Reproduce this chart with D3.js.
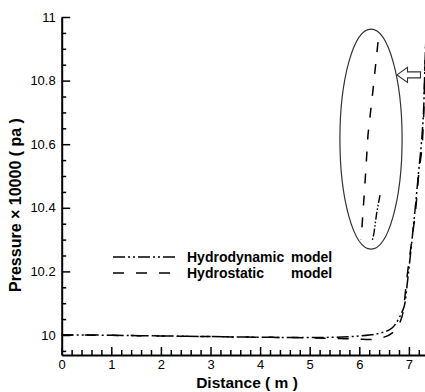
<!DOCTYPE html>
<html>
<head>
<meta charset="utf-8">
<script src="https://cdn.jsdelivr.net/npm/d3@7/dist/d3.min.js"></script>
<style>
html,body{margin:0;padding:0;background:#fff;}
svg{display:block;}
text{font-family:"Liberation Sans",Arial,Helvetica,sans-serif;fill:#000;}
</style>
</head>
<body>
<svg id="chart" width="425" height="392"></svg>
<script>
// ---- data ----
const xTicks = [0, 1, 2, 3, 4, 5, 6, 7];
const yTicks = [10, 10.2, 10.4, 10.6, 10.8, 11];
const yTickLabels = ["10", "10.2", "10.4", "10.6", "10.8", "11"];

const dynX = [0, 0.5, 1, 2, 3, 4, 5, 5.5, 6.0, 6.2, 6.42, 6.66, 6.78, 6.86, 6.92, 6.98, 7.07, 7.14, 7.20, 7.27, 7.30, 7.32, 7.34, 7.36];
const dynY = [10.0, 10.0, 9.999, 9.997, 9.995, 9.993, 9.992, 9.993, 9.997, 10.0, 10.006, 10.022, 10.047, 10.072, 10.10, 10.18, 10.31, 10.42, 10.52, 10.64, 10.72, 10.83, 10.92, 10.98];

const staX = [0, 1, 2, 3, 4, 5, 5.5, 6.0, 6.2, 6.42, 6.66, 6.82, 6.88, 6.96, 7.06, 7.14, 7.20, 7.28, 7.30, 7.32, 7.34, 7.36];
const staY = [10.0, 9.999, 9.997, 9.995, 9.993, 9.991, 9.989, 9.987, 9.986, 9.99, 10.006, 10.04, 10.07, 10.18, 10.30, 10.40, 10.51, 10.63, 10.70, 10.82, 10.92, 10.98];

// magnified sketch inside the ellipse
const insetStaX = [6.377, 6.276, 6.175, 6.115, 6.054, 6.034];
const insetStaY = [10.921, 10.770, 10.629, 10.478, 10.340, 10.300];
const insetDynX = [6.417, 6.351, 6.296, 6.266];
const insetDynY = [10.440, 10.384, 10.321, 10.299];

const seriesNames = ["Hydrodynamic", "Hydrostatic"];

// ---- layout ----
const svg = d3.select("#chart");
const x = d3.scaleLinear().domain([0, 7.4]).range([61.7, 61.7 + 7.4 * 49.6]);
const y = d3.scaleLinear().domain([10, 11]).range([335, 17]);
const yBottom = 355;
y.domain([y.invert(yBottom), 11]).range([yBottom, 17]);

const DASHDOT = "12,3,2,3,2,3";
const DASHED = "11,12";

// minor ticks
const xMinor = d3.range(0, 7.41, 0.2).filter(v => Math.abs(v - Math.round(v)) > 1e-6);
const yMinor = d3.range(9.95, 11.0, 0.05).filter(v => Math.abs(v * 5 - Math.round(v * 5)) > 1e-6);

const gx = svg.append("g").attr("transform", `translate(0,${yBottom})`);
gx.call(d3.axisBottom(x).tickValues(xMinor).tickSizeInner(-5).tickSizeOuter(0).tickFormat(""));
gx.call(g => g.select(".domain").remove());
const gx2 = svg.append("g").attr("transform", `translate(0,${yBottom})`);
gx2.call(d3.axisBottom(x).tickValues(xTicks).tickSizeInner(-8).tickSizeOuter(0).tickPadding(5).tickFormat(d3.format("d")));

const gy = svg.append("g").attr("transform", `translate(${x(0)},0)`);
gy.call(d3.axisLeft(y).tickValues(yMinor).tickSizeInner(-4.5).tickSizeOuter(0).tickFormat(""));
gy.call(g => g.select(".domain").remove());
const gy2 = svg.append("g").attr("transform", `translate(${x(0)},0)`);
gy2.call(d3.axisLeft(y).tickValues(yTicks).tickSizeInner(-8.5).tickSizeOuter(0).tickPadding(6)
  .tickFormat((d, i) => yTickLabels[i]));

svg.selectAll(".domain").attr("stroke", "#000").attr("stroke-width", 2);
svg.selectAll(".tick line").attr("stroke", "#000").attr("stroke-width", 1.5);
svg.selectAll(".tick text").attr("font-size", 13).attr("font-family", "Liberation Sans, Arial, sans-serif").attr("fill", "#000");

// axis titles
svg.append("text").attr("x", 247).attr("y", 388).attr("text-anchor", "middle")
  .attr("font-size", 15.5).attr("font-weight", "bold").text("Distance ( m )");
svg.append("text").attr("transform", "translate(21,205) rotate(-90)").attr("text-anchor", "middle")
  .attr("font-size", 16).attr("font-weight", "bold").text("Pressure × 10000 ( pa )");

// curves
const line = d3.line().x(d => x(d[0])).y(d => y(d[1])).curve(d3.curveMonotoneX);
const lineN = d3.line().x(d => x(d[0])).y(d => y(d[1])).curve(d3.curveLinear);
svg.append("clipPath").attr("id", "clip").append("rect")
  .attr("x", x(0)).attr("y", 0).attr("width", 425 - x(0)).attr("height", yBottom);

svg.append("path").attr("clip-path", "url(#clip)")
  .attr("d", line(staX.map((v, i) => [v, staY[i]])))
  .attr("fill", "none").attr("stroke", "#000").attr("stroke-width", 1.5).attr("stroke-dasharray", DASHED);
svg.append("path").attr("clip-path", "url(#clip)")
  .attr("d", line(dynX.map((v, i) => [v, dynY[i]])))
  .attr("fill", "none").attr("stroke", "#000").attr("stroke-width", 1.5).attr("stroke-dasharray", DASHDOT);

// inset sketch
svg.append("path").attr("d", lineN(insetStaX.map((v, i) => [v, insetStaY[i]])))
  .attr("fill", "none").attr("stroke", "#000").attr("stroke-width", 1.5).attr("stroke-dasharray", "10,12");
svg.append("path").attr("d", lineN(insetDynX.map((v, i) => [v, insetDynY[i]])))
  .attr("fill", "none").attr("stroke", "#000").attr("stroke-width", 1.4).attr("stroke-dasharray", "8,2,1.5,2,1.5,2");

// ellipse annotation
const ecx = 6.236, ecy = 10.616, erx = 0.627, ery = 0.346;
svg.append("ellipse").attr("cx", x(ecx)).attr("cy", y(ecy))
  .attr("rx", x(ecx + erx) - x(ecx)).attr("ry", y(ecy - ery) - y(ecy))
  .attr("fill", "none").attr("stroke", "#333").attr("stroke-width", 1.2);

// arrow annotation
const tipX = x(6.76), tipY = y(10.818);
const arrowShape = [[0, 0], [10.5, -7.5], [10.5, -3], [23.5, -3], [23.5, 3], [10.5, 3], [10.5, 7.5]];
svg.append("polygon").attr("points", arrowShape.map(p => [tipX + p[0], tipY + p[1]].join(",")).join(" "))
  .attr("fill", "#fff").attr("stroke", "#333").attr("stroke-width", 1.1);

// legend
const leg = svg.append("g");
const legRows = [
  {name: seriesNames[0], dash: DASHDOT, y: 257},
  {name: seriesNames[1], dash: DASHED, y: 273}
];
legRows.forEach(r => {
  leg.append("line").attr("x1", 113).attr("x2", 175).attr("y1", r.y).attr("y2", r.y)
    .attr("stroke", "#000").attr("stroke-width", 1.6).attr("stroke-dasharray", r.dash);
  leg.append("text").attr("x", 187).attr("y", r.y + 5).attr("font-size", 14).attr("font-weight", "bold").text(r.name);
  leg.append("text").attr("x", 291).attr("y", r.y + 5).attr("font-size", 14).attr("font-weight", "bold").text("model");
});
</script>
</body>
</html>
